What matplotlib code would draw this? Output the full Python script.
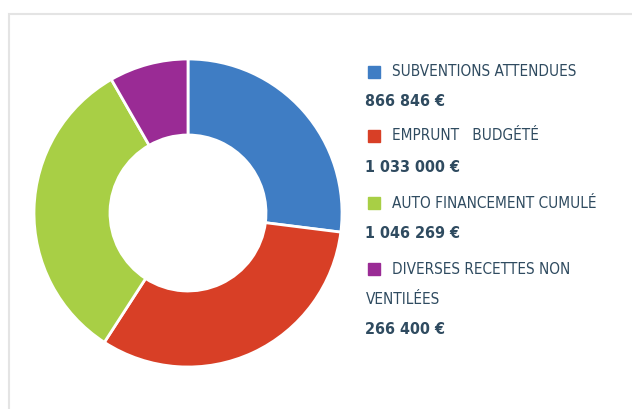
import matplotlib.pyplot as plt
from matplotlib.patches import Rectangle

# Data
labels = ['SUBVENTIONS ATTENDUES', 'EMPRUNT   BUDGÉTÉ', 'AUTO FINANCEMENT CUMULÉ',
          'DIVERSES RECETTES NON\nVENTILÉES']
values = [866846, 1033000, 1046269, 266400]
value_txt = ['866 846 €', '1 033 000 €', '1 046 269 €', '266 400 €']
colors = ['#3f7dc4', '#d83f26', '#a8cf45', '#9a2b95']

fig = plt.figure(figsize=(6.32, 4.09), dpi=100)
fig.patch.set_facecolor('white')

# light frame around the panel
fig.patches.append(Rectangle((9 / 632, -0.1), 1.0, 1 - 14 / 409 + 0.1,
                             transform=fig.transFigure, fill=False,
                             edgecolor='#e4e4e4', linewidth=1.5))

# Donut
ax = fig.add_axes([(188 - 160) / 632, (409 - 213 - 160) / 409, 320 / 632, 320 / 409])
ax.pie(values, colors=colors, startangle=90, counterclock=False, radius=154 / 160,
       wedgeprops=dict(width=76 / 160, edgecolor='white', linewidth=2))
ax.set_xlim(-1, 1)
ax.set_ylim(-1, 1)
ax.set_aspect('equal')
ax.axis('off')

# Legend text
fnt = 'DejaVu Sans'
txtcol = '#2f4b60'
lab_y = [72, 136, 203, 269]
val_y = [101, 167, 234, 330]
for i in range(4):
    y = 1 - lab_y[i] / 409
    fig.patches.append(Rectangle((368 / 632, y - 6 / 409), 12 / 632, 12 / 409,
                                 transform=fig.transFigure, color=colors[i]))
    lines = labels[i].split('\n')
    fig.text(392 / 632, y, lines[0], fontsize=11, family=fnt, color=txtcol,
             va='center', ha='left', fontstretch='condensed')
    if len(lines) > 1:
        fig.text(366 / 632, 1 - 299 / 409, lines[1], fontsize=11, family=fnt,
                 color=txtcol, va='center', ha='left', fontstretch='condensed')
    fig.text(365 / 632, 1 - val_y[i] / 409, value_txt[i], fontsize=11.5, family=fnt,
             weight='bold', color=txtcol, va='center', ha='left', fontstretch='condensed')

fig.savefig('out.png', dpi=100)
